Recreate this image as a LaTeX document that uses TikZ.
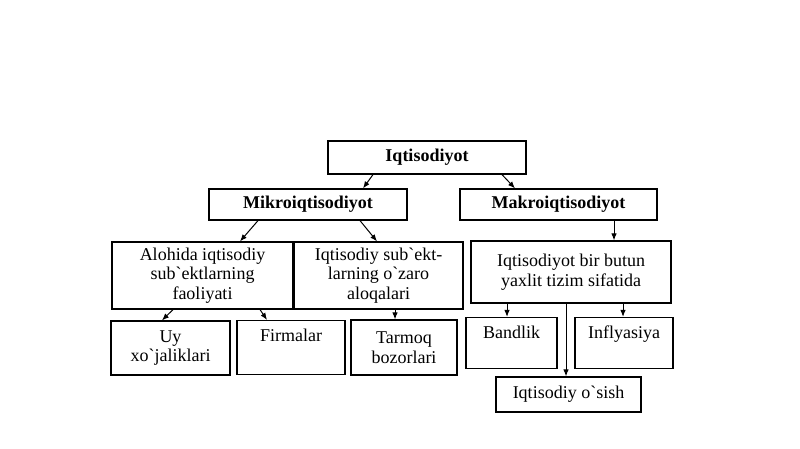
\documentclass[tikz,border=0pt]{standalone}
\usepackage{fontspec}
\setmainfont{Liberation Serif}[Ligatures=TeXOff]
\usetikzlibrary{arrows,arrows.meta,positioning}

\begin{document}
\begin{tikzpicture}[x=1pt,y=-1pt,
    box/.style={draw,line width=1.2pt,align=center,inner sep=2pt,
        font=\fontsize{18}{19.5}\selectfont},
    head/.style={box,font=\fontsize{18}{19.5}\selectfont\bfseries},
    topbox/.style={box,inner sep=3pt,text height=18pt,text depth=#1},
    arr/.style={-{Latex[length=7pt,width=5.5pt]},line width=1pt}]
    \useasboundingbox (0,0) rectangle (800,449);

    %%%% Top levels ===================================
    \node[head,minimum width=198pt,minimum height=33pt] (iqt) at (427,157.5) {Iqtisodiyot};
    \node[head,minimum width=198pt,minimum height=31pt] (mikro) at (308,204.5) {Mikroiqtisodiyot};
    \node[head,minimum width=197pt,minimum height=31pt] (makro) at (558.5,204.5) {Makroiqtisodiyot};

    %%%% Mikro branch =================================
    \node[box,minimum width=181pt,minimum height=67pt] (alohida) at (202.5,275.5)
        {Alohida iqtisodiy\\sub`ektlarning\\faoliyati};
    \node[box,minimum width=169pt,minimum height=67pt] (aloqa) at (378.5,275.5)
        {Iqtisodiy sub`ekt-\\larning o`zaro\\aloqalari};
    \node[box,minimum width=119pt,minimum height=54pt] (uy) at (170.5,348) {Uy\\xo`jaliklari};
    \node[topbox=30pt,minimum width=108pt] (firma) at (291,347.5) {Firmalar};
    \node[box,minimum width=106pt,minimum height=55pt] (tarmoq) at (404,347.5) {Tarmoq\\bozorlari};

    %%%% Makro branch =================================
    \node[box,minimum width=200pt,minimum height=62pt] (butun) at (571,272)
        {Iqtisodiyot bir butun\\yaxlit tizim sifatida};
    \node[topbox=27pt,minimum width=91pt] (bandlik) at (511.5,343) {Bandlik};
    \node[topbox=27pt,minimum width=98pt] (infl) at (624,343) {Inflyasiya};
    \node[box,minimum width=145pt,minimum height=35pt] (osish) at (568.5,394.5) {Iqtisodiy o`sish};

    %%%% Arrows =======================================
    \draw[arr] ([xshift=-54pt]iqt.south) -- ([xshift=55pt]mikro.north);
    \draw[arr] ([xshift=75pt]iqt.south) -- ([xshift=-43.5pt]makro.north);
    \draw[arr] ([xshift=-50pt]mikro.south) -- ([xshift=37.5pt]alohida.north);
    \draw[arr] ([xshift=52pt]mikro.south) -- ([xshift=-1.5pt]aloqa.north);
    \draw[arr] ([xshift=-29.5pt]alohida.south) -- ([xshift=-8.5pt]uy.north);
    \draw[arr] ([xshift=57.5pt]alohida.south) -- ([xshift=-24pt]firma.north);
    \draw[arr] ([xshift=-9pt]tarmoq.north |- aloqa.south) -- ([xshift=-9pt]tarmoq.north);
    \draw[arr] ([xshift=43pt]butun.north |- makro.south) -- ([xshift=43pt]butun.north);
    \draw[arr] ([xshift=-4.5pt]bandlik.north |- butun.south) -- ([xshift=-4.5pt]bandlik.north);
    \draw[arr] ([xshift=-1pt]infl.north |- butun.south) -- ([xshift=-1pt]infl.north);
    \draw[arr] ([xshift=-2.5pt]osish.north |- butun.south) -- ([xshift=-2.5pt]osish.north);
\end{tikzpicture}
\end{document}
